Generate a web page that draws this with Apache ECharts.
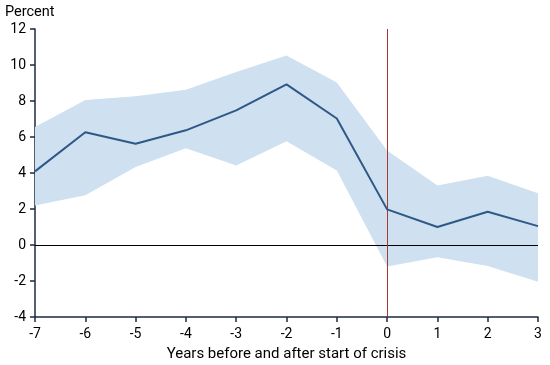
<!DOCTYPE html>
<html>
<head>
<meta charset="utf-8">
<script src="https://cdn.jsdelivr.net/npm/echarts@6/dist/echarts.min.js"></script>
<style>html,body{margin:0;padding:0;background:#fff}#c{width:550px;height:365px}</style>
</head>
<body>
<div id="c"></div>
<script>
var years = ['-7', '-6', '-5', '-4', '-3', '-2', '-1', '0', '1', '2', '3'];
var central = [4.09, 6.26, 5.63, 6.37, 7.48, 8.92, 7.03, 1.98, 1.0, 1.85, 1.05];
var upper = [6.55, 8.05, 8.26, 8.63, 9.61, 10.53, 9.03, 5.25, 3.3, 3.85, 2.87];
var lower = [2.2, 2.76, 4.33, 5.37, 4.42, 5.76, 4.14, -1.2, -0.68, -1.17, -2.04];
var yTicks = [-4, -2, 0, 2, 4, 6, 8, 10, 12];

var font = 'Roboto';
var axisColor = '#1b2a44';
var bandWidth = upper.map(function (u, i) { return +(u - lower[i]).toFixed(3); });

var chart = echarts.init(document.getElementById('c'), null, {renderer: 'canvas'});
chart.setOption({
  animation: false,
  grid: {left: 35, right: 12, top: 29, bottom: 48, outerBoundsMode: 'none', containLabel: false},
  graphic: [{
    type: 'text', left: 5, top: 5,
    style: {text: 'Percent', font: '14.5px ' + font, fill: '#000'}
  }],
  xAxis: {
    type: 'category', data: years, boundaryGap: false,
    name: 'Years before and after start of crisis',
    nameLocation: 'middle', nameGap: 30,
    nameTextStyle: {fontFamily: font, fontSize: 15, color: '#000'},
    axisLine: {onZero: false, lineStyle: {color: axisColor, width: 1.5}},
    axisTick: {show: true, length: 5, lineStyle: {color: axisColor, width: 1.5}},
    axisLabel: {fontFamily: font, fontSize: 14, color: '#000', margin: 10, interval: 0},
    splitLine: {show: false}
  },
  yAxis: {
    type: 'value', min: yTicks[0], max: yTicks[yTicks.length - 1], interval: 2,
    axisLine: {show: true, lineStyle: {color: axisColor, width: 1.5}},
    axisTick: {show: true, length: 5, lineStyle: {color: axisColor, width: 1.5}},
    axisLabel: {fontFamily: font, fontSize: 14, color: '#000', margin: 9},
    splitLine: {show: false}
  },
  series: [
    {
      type: 'line', data: lower, stack: 'band', stackStrategy: 'all',
      symbol: 'none', lineStyle: {opacity: 0}, silent: true, z: 1
    },
    {
      type: 'line', data: bandWidth, stack: 'band', stackStrategy: 'all',
      symbol: 'none', lineStyle: {opacity: 0},
      areaStyle: {color: '#cfe0f0', opacity: 1}, silent: true, z: 1
    },
    {
      type: 'line', data: central, symbol: 'none',
      lineStyle: {color: '#2e5886', width: 2}, z: 5
    },
    {
      type: 'line', data: [], symbol: 'none', z: 6,
      markLine: {
        silent: true, symbol: 'none', label: {show: false},
        data: [
          {yAxis: 0, lineStyle: {color: '#000', width: 1, type: 'solid'}},
          {xAxis: '0', lineStyle: {color: '#a23b2d', width: 1, type: 'solid'}}
        ]
      }
    }
  ]
});
</script>
</body>
</html>
